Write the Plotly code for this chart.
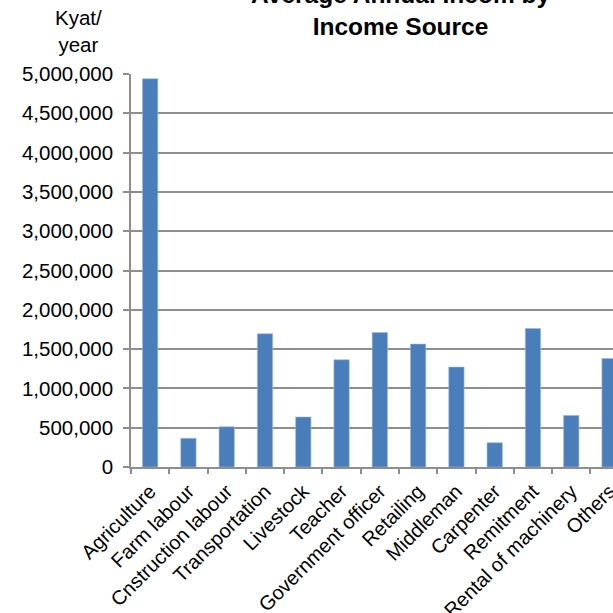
import plotly.graph_objects as go

# Average annual income per source (Kyat/year)
sources = [
    "Agriculture", "Farm labour", "Cnstruction labour", "Transportation",
    "Livestock", "Teacher", "Government officer", "Retailing", "Middleman",
    "Carpenter", "Remitment", "Rental of machinery", "Others",
]
income = [
    4940000, 365000, 512000, 1695000, 636000, 1364000, 1711000,
    1564000, 1271000, 309000, 1762000, 656000, 1381000,
]
y_ticks = list(range(0, 5000001, 500000))
y_tick_text = [f"{v:,}" for v in y_ticks]

FONT = "Liberation Sans, Arial, sans-serif"
GRID = "#8e8e8e"

fig = go.Figure(
    go.Bar(
        x=sources,
        y=income,
        marker=dict(color="#4A7EBB", line=dict(color="#9DB9DC", width=0.6)),
        width=0.4,
    )
)

fig.update_layout(
    width=613,
    height=613,
    margin=dict(l=131, r=0, t=74, b=146),
    paper_bgcolor="white",
    plot_bgcolor="white",
    font=dict(family=FONT, size=20, color="#000"),
    showlegend=False,
    xaxis=dict(
        range=[-0.5, 12.09],
        automargin=False,
        tickangle=-45,
        ticks="outside",
        tickson="boundaries",
        ticklen=5,
        tickcolor=GRID,
        tickwidth=1.5,
        showline=True,
        linecolor=GRID,
        linewidth=1.5,
        showgrid=False,
        tickfont=dict(size=20),
        ticklabelstandoff=3,
    ),
    yaxis=dict(
        range=[0, 5000000],
        automargin=False,
        tickvals=y_ticks,
        ticktext=y_tick_text,
        ticks="outside",
        ticklen=6,
        tickcolor=GRID,
        tickwidth=1.5,
        showline=True,
        linecolor=GRID,
        linewidth=1.5,
        showgrid=True,
        gridcolor=GRID,
        gridwidth=1.5,
        zeroline=False,
        tickfont=dict(size=20.5),
        ticklabelstandoff=6,
    ),
    annotations=[
        dict(
            text="<b>Average Annual Incom by<br>Income Source</b>",
            xref="paper", yref="paper",
            x=(400 - 131) / 482, y=1 + (74 - 42) / 393,
            xanchor="center", yanchor="bottom",
            showarrow=False,
            font=dict(size=24.5, family=FONT),
        ),
        dict(
            text="Kyat/<br>year",
            xref="paper", yref="paper",
            x=(78 - 131) / 482, y=1 + (74 - 58) / 393,
            xanchor="center", yanchor="bottom",
            showarrow=False,
            font=dict(size=20.5, family=FONT),
        ),
    ],
)

fig.write_html("out.html")
